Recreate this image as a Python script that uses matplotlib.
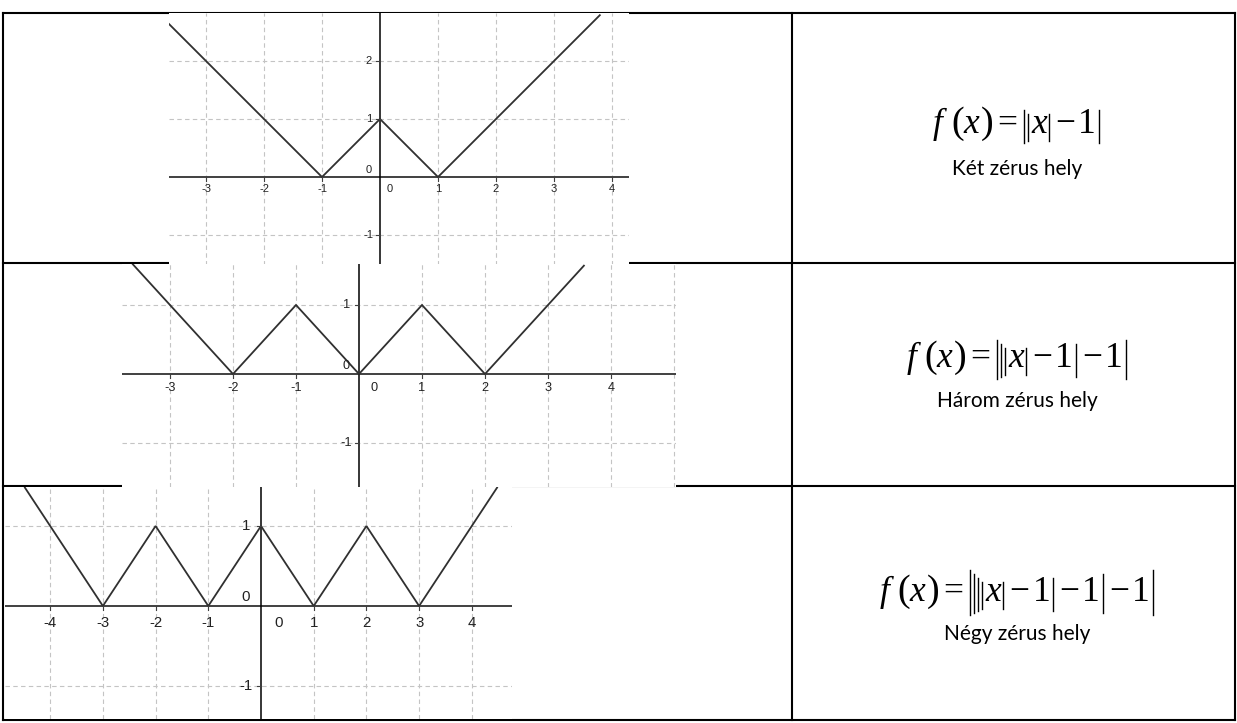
import matplotlib.pyplot as plt
from matplotlib.lines import Line2D

W, H = 1237, 723

# vertices of the three broken lines
p1_x = [-3.64, -1, 0, 1, 3.79]
p1_y = [2.64, 0, 1, 0, 2.79]
p2_x = [-3.59, -2, -1, 0, 1, 2, 3.57]
p2_y = [1.59, 0, 1, 0, 1, 0, 1.57]
p3_x = [-4.48, -3, -2, -1, 0, 1, 2, 3, 4.48]
p3_y = [1.48, 0, 1, 0, 1, 0, 1, 0, 1.48]

p1_xticks = [-3, -2, -1, 0, 1, 2, 3, 4]
p1_yticks = [-1, 0, 1, 2]
p2_xticks = [-3, -2, -1, 0, 1, 2, 3, 4]
p2_yticks = [-1, 0, 1]
p3_xticks = [-4, -3, -2, -1, 0, 1, 2, 3, 4]
p3_yticks = [-1, 0, 1]

# number of nested absolute value bars in each formula
nesting = [2, 3, 4]
captions = ['Két zérus hely', 'Három zérus hely', 'Négy zérus hely']

fig = plt.figure(figsize=(W / 100, H / 100), dpi=100)
base = fig.add_axes([0, 0, 1, 1])
base.set_xlim(0, W)
base.set_ylim(H, 0)
base.axis('off')
renderer = fig.canvas.get_renderer()

# table frame
lw_t = 1.5
for y in [13, 263, 486, 720]:
    base.add_line(Line2D([3, 1235], [y, y], color='black', lw=lw_t))
for x in [3, 792, 1235]:
    base.add_line(Line2D([x, x], [13, 720], color='black', lw=lw_t))


def formula(cx, by, n):
    serif = 'Liberation Serif'
    fs = 25.5
    toks = [('t', 'f', fs, 'italic', 8), ('t', '(', fs + 2, 'normal', 0), ('t', 'x', fs, 'italic', 1),
            ('t', ')', fs + 2, 'normal', 4), ('t', '=', fs, 'normal', 7)]
    for k in range(n, 0, -1):
        toks.append(('b', k, 0, '', 4))
    toks[-1] = ('b', 1, 0, '', 3.5)
    toks.append(('t', 'x', fs, 'italic', 2))
    for k in range(1, n + 1):
        toks.append(('b', k, 0, '', 6))
        if k < n:
            toks.append(('t', '\u2212', fs, 'normal', 3))
            toks.append(('t', '1', fs, 'normal', 3))
    items = []
    x = 0
    for kind, val, size, st, gap in toks:
        if kind == 't':
            t = base.text(0, by, val, fontsize=size, family=serif, style=st, ha='left', va='baseline')
            w = t.get_window_extent(renderer).width
            items.append((t, x))
            x += w + gap
        else:
            items.append((val, x))
            x += gap
    x -= toks[-1][4]
    x0 = cx - x / 2
    for obj, xo in items:
        if isinstance(obj, int):
            k = obj
            base.add_line(Line2D([x0 + xo, x0 + xo], [by + 6 + 2 * k, by - 15 - 4 * k],
                                 color='black', lw=1.0))
        else:
            obj.set_x(x0 + xo)


row_y = [(133, 169), (367, 401), (601, 634)]
for n, c, (fy, cy) in zip(nesting, captions, row_y):
    formula(1016, fy, n)
    base.text(1017, cy, c, fontsize=15, family='Lato', ha='center', va='center')


def graph(box, origin, unit, xs, ys, xticks, yticks, s, zoff):
    l, t, r, b = box
    ox, oy = origin
    ux, uy = unit
    ax = fig.add_axes([l / W, 1 - b / H, (r - l) / W, (b - t) / H])
    ax.set_xlim((l - ox) / ux, (r - ox) / ux)
    ax.set_ylim((oy - b) / uy, (oy - t) / uy)
    ax.set_facecolor('white')
    for sp in ax.spines.values():
        sp.set_visible(False)
    ax.set_xticks([])
    ax.set_yticks([])
    x0, x1 = ax.get_xlim()
    y0, y1 = ax.get_ylim()
    for i in range(int(x0) - 1, int(x1) + 2):
        if i != 0:
            ax.axvline(i, color='#c4c4c4', lw=0.8, dashes=(4, 3))
    for j in range(int(y0) - 1, int(y1) + 2):
        if j != 0:
            ax.axhline(j, color='#c4c4c4', lw=0.8, dashes=(4, 3))
    ax.axhline(0, color='#404040', lw=1.4)
    ax.axvline(0, color='black', lw=1.1)
    ax.plot(xs, ys, color='#303030', lw=1.3, solid_joinstyle='miter')
    fs = 8 * s
    lab = dict(ha='center', va='center', fontsize=fs, family='Liberation Sans', color='#222222',
               textcoords='offset points')
    for i in xticks:
        if i == 0:
            ax.annotate('0', (0, 0), xytext=(zoff * 0.72, -9 * s), **lab)
            continue
        ax.plot([i, i], [0, -3.5 / uy], color='#404040', lw=0.8)
        ax.annotate(str(i), (i, 0), xytext=(0, -9 * s), **lab)
    for j in yticks:
        if j == 0:
            ax.annotate('0', (0, 0), xytext=(-8 * s, 5 * s), **lab)
            continue
        ax.plot([-4 / ux, 0], [j, j], color='#404040', lw=0.8)
        ax.annotate(str(j), (0, j), xytext=(-8 * s, 0), **lab)
    return ax


graph((169, 13, 629, 265), (380, 177), (58, 58), p1_x, p1_y, p1_xticks, p1_yticks, 1.0, 10)
graph((122, 264, 676, 487), (359, 374), (63, 69), p2_x, p2_y, p2_xticks, p2_yticks, 1.15, 15)
graph((5, 487, 512, 719), (261, 606), (52.7, 80), p3_x, p3_y, p3_xticks, p3_yticks, 1.35, 18)

fig.savefig('out.png', dpi=100)
